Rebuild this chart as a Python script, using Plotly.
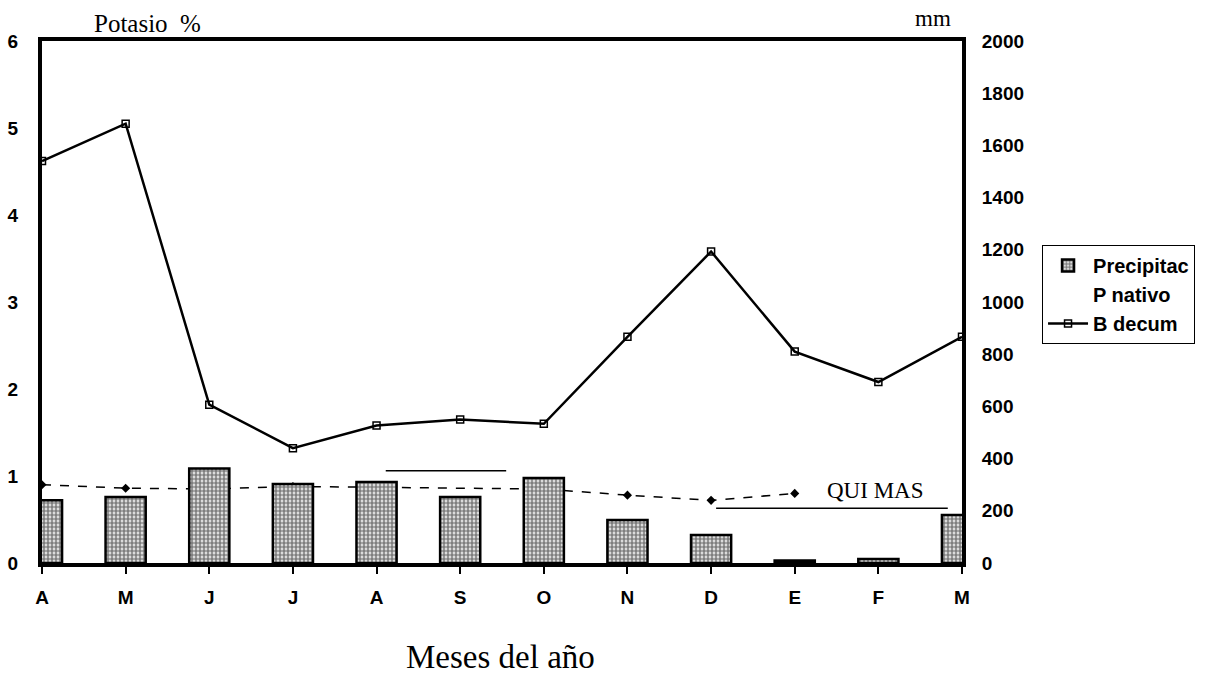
import plotly.graph_objects as go

meses = ["A", "M", "J", "J", "A", "S", "O", "N", "D", "E", "F", "M"]
precipitacion_mm = [240, 253, 362, 303, 310, 253, 326, 165, 107, 10, 15, 184]
p_nativo = [0.9, 0.86, 0.85, 0.88, 0.87, None, 0.85, 0.78, 0.72, 0.8, None, None]
b_decum = [4.62, 5.05, 1.82, 1.32, 1.58, 1.65, 1.6, 2.6, 3.58, 2.43, 2.08, 2.6]

x_pos = list(range(len(meses)))

fig = go.Figure()

fig.add_trace(go.Bar(
    x=x_pos, y=precipitacion_mm, name="Precipitac", yaxis="y2", width=0.48,
    marker=dict(color="white", line=dict(color="black", width=2.5),
                pattern=dict(shape=".", fgcolor="black", bgcolor="white", solidity=0.7, size=4)),
))
fig.add_trace(go.Scatter(
    x=x_pos, y=p_nativo, name="P nativo", mode="lines+markers", showlegend=False,
    line=dict(color="black", width=1.5, dash="dash"),
    marker=dict(symbol="diamond", size=7, color="black"),
    connectgaps=True,
))
fig.add_trace(go.Scatter(
    x=[None], y=[None], name="P nativo", mode="lines",
    line=dict(color="rgba(0,0,0,0)", width=1),
))
fig.add_trace(go.Scatter(
    x=x_pos, y=b_decum, name="B decum", mode="lines+markers",
    line=dict(color="black", width=2.5),
    marker=dict(symbol="square-open", size=7, color="black", line=dict(width=1.5)),
))

fig.add_shape(type="line", xref="x", yref="y", x0=4.11, x1=5.55, y0=1.06, y1=1.06,
              line=dict(color="black", width=1.5))
fig.add_shape(type="line", xref="x", yref="y", x0=8.06, x1=10.83, y0=0.63, y1=0.63,
              line=dict(color="black", width=1.5))
fig.add_annotation(x=9.96, y=0.83, xref="x", yref="y", text="QUI MAS", showarrow=False,
                   font=dict(family="Liberation Serif", size=23, color="black"))

fig.add_annotation(x=0.054, y=1.0, xref="paper", yref="paper", xanchor="left", yanchor="bottom",
                   yshift=2, text="Potasio  %", showarrow=False,
                   font=dict(family="Liberation Serif", size=25, color="black"))
fig.add_annotation(x=0.990, y=1.0, xref="paper", yref="paper", xanchor="right", yanchor="bottom",
                   yshift=8, text="mm", showarrow=False,
                   font=dict(family="Liberation Serif", size=23, color="black"))
fig.add_annotation(x=0.498, y=-0.18, xref="paper", yref="paper", yanchor="middle",
                   text="Meses del año", showarrow=False,
                   font=dict(family="Liberation Serif", size=33, color="black"))

tick_font = dict(family="Liberation Sans", size=19, color="black", weight="bold")

fig.update_layout(
    width=1210, height=676,
    margin=dict(l=42, r=248, t=41, b=113, autoexpand=False),
    plot_bgcolor="white", paper_bgcolor="white",
    font=dict(family="Liberation Sans", color="black"),
    xaxis=dict(
        range=[0, 11], tickmode="array", tickvals=x_pos, ticktext=meses,
        showline=True, linecolor="black", linewidth=3.5, mirror=True,
        ticks="outside", ticklen=7, tickwidth=1.5, tickcolor="black",
        showgrid=False, zeroline=False, automargin=False,
        tickfont=tick_font, ticklabelstandoff=7,
    ),
    yaxis=dict(
        range=[0, 6], tickvals=[0, 1, 2, 3, 4, 5, 6],
        showline=True, linecolor="black", linewidth=4,
        showgrid=False, zeroline=False, ticks="", automargin=False,
        tickfont=tick_font, ticklabelstandoff=16,
    ),
    yaxis2=dict(
        range=[0, 2000], tickvals=list(range(0, 2001, 200)), overlaying="y", side="right",
        showline=True, linecolor="black", linewidth=4,
        showgrid=False, zeroline=False, ticks="", automargin=False,
        tickfont=tick_font, ticklabelstandoff=12,
    ),
    legend=dict(
        x=1.087, y=0.609, xanchor="left", yanchor="top",
        bordercolor="black", borderwidth=1, bgcolor="white",
        font=dict(family="Liberation Sans", size=20, color="black", weight="bold"),
        tracegroupgap=0, itemwidth=40,
    ),
)

fig.write_html("out.html", config={"displayModeBar": False},
               post_script="document.body.style.margin='0px';")
